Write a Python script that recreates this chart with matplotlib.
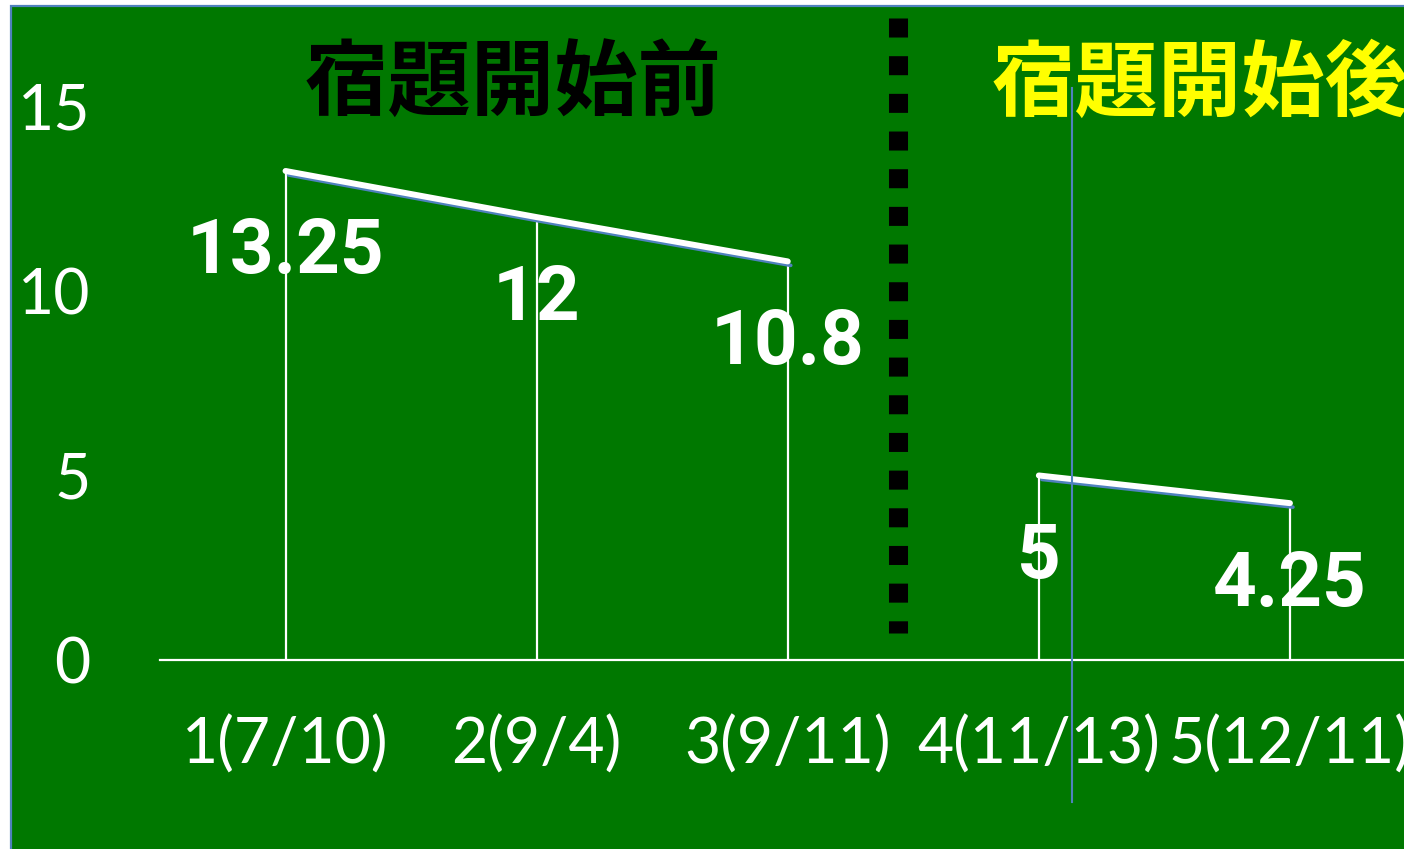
import matplotlib
matplotlib.use("Agg")
import matplotlib.pyplot as plt
import matplotlib.transforms as mtransforms
from matplotlib.patches import Rectangle
from matplotlib.lines import Line2D

plt.rcParams['font.family'] = ['Noto Sans CJK JP', 'DejaVu Sans']

# data
categories = ["1(7/10)", "2(9/4)", "3(9/11)", "4(11/13)", "5(12/11)"]
before_idx = [0, 1, 2]
before_vals = [13.25, 12, 10.8]
after_idx = [3, 4]
after_vals = [5, 4.25]
y_ticks = [0, 5, 10, 15]
title_before = "宿題開始前"
title_after = "宿題開始後"

green = "#007800"
blue = "#4F81BD"

W, H = 1404, 849
fig = plt.figure(figsize=(W / 100, H / 100), dpi=100, facecolor="white")

# green panel with blue frame
fig.patches.append(Rectangle((10.5 / W, -0.02), 1.1, 1 - 6 / H + 0.02,
                             transform=fig.transFigure, facecolor=green,
                             edgecolor=blue, linewidth=1.6, zorder=-5))

ax = fig.add_axes([160 / W, (H - 660) / H, (1415.5 - 160) / W, 654 / H])
ax.set_facecolor("none")
ax.set_xlim(-0.5, 4.5)
ax.set_ylim(0, 17.72)

shadow = ax.transData + mtransforms.ScaledTranslation(3 / 100, -4 / 100, fig.dpi_scale_trans)
for xs, ys in [(before_idx, before_vals), (after_idx, after_vals)]:
    ax.vlines(xs, 0, ys, color="white", linewidth=1.6, zorder=2)
    ax.plot(xs, ys, color=blue, linewidth=2.6, solid_capstyle="round",
            transform=shadow, zorder=3)
    ax.plot(xs, ys, color="white", linewidth=4.3, solid_capstyle="round", zorder=4)
    for x, y in zip(xs, ys):
        ax.annotate(f"{y:g}", (x, y), xytext=(0, -82), textcoords="offset pixels",
                    ha="center", va="center", color="white", fontsize=55,
                    fontweight="bold", family=["Roboto", "DejaVu Sans"], zorder=5)

# dotted divider
ax.plot([2.438, 2.438], [17.4, 0.73], color="black", linewidth=13.7,
        dashes=(1, 0.98), solid_capstyle="butt", dash_capstyle="butt", zorder=2)

for s in ["top", "right", "left"]:
    ax.spines[s].set_visible(False)
ax.spines["bottom"].set_color("white")
ax.spines["bottom"].set_linewidth(1.6)

ax.set_yticks(y_ticks)
ax.set_xticks(range(len(categories)))
ax.set_xticklabels(categories)
ax.tick_params(axis="y", length=0, pad=50, labelcolor="white", labelsize=45)
ax.tick_params(axis="x", length=0, pad=40, labelcolor="white", labelsize=45)
for lab in ax.get_xticklabels() + ax.get_yticklabels():
    lab.set_family(["Lato", "DejaVu Sans"])

fig.text(513 / W, 1 - 85 / H, title_before, ha="center", va="center",
         fontsize=60, fontweight="bold", color="black")
fig.text(992 / W, 1 - 85 / H, title_after, ha="left", va="center",
         fontsize=60, fontweight="bold", color="#FFFF00")

# stray thin vertical line
fig.lines.append(Line2D([1072 / W, 1072 / W], [1 - 88 / H, 1 - 802 / H],
                        transform=fig.transFigure, color=blue, linewidth=1.5,
                        zorder=10))

fig.savefig("out.png", dpi=100, facecolor="white")
